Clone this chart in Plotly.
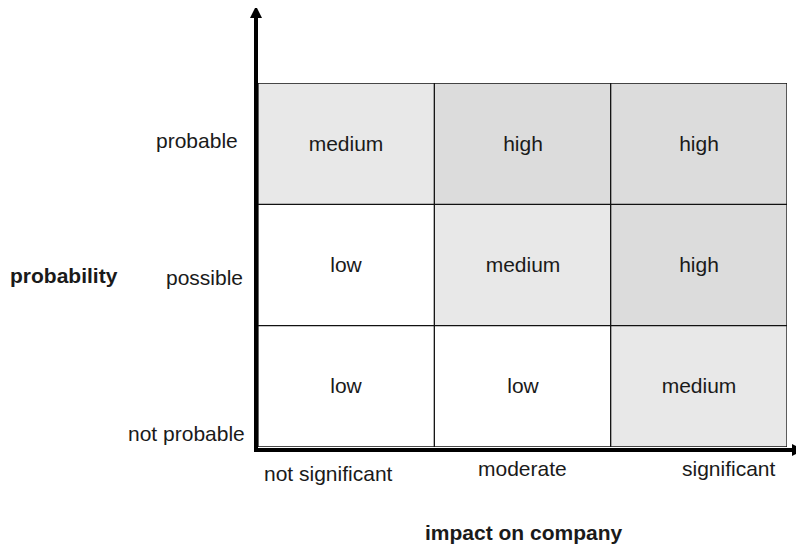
import plotly.graph_objects as go

# ---- data ----
impact_labels = ["not significant", "moderate", "significant"]
probability_labels = ["not probable", "possible", "probable"]
# risk level per row (bottom -> top), per column (left -> right)
risk_not_probable = ["low", "low", "medium"]
risk_possible = ["low", "medium", "high"]
risk_probable = ["medium", "high", "high"]
level_order = ["low", "medium", "high"]
x_title = "impact on company"
y_title = "probability"

# ---- styling ----
FONT = "Arial, Liberation Sans, sans-serif"
level_colors = ["#ffffff", "#e8e8e8", "#dcdcdc"]

rows = [risk_not_probable, risk_possible, risk_probable]
ncol = len(impact_labels)
nrow = len(probability_labels)
z = [[level_order.index(v) for v in r] for r in rows]

OFF = 8  # page body margin
W, H = 804 - OFF, 546 - OFF
# plot area in page pixels: x 258..787, y 83..447
L, T = 258 - OFF, 83 - OFF
R, B = 804 - 787, 546 - 447
pw, ph = W - L - R, H - T - B

fig = go.Figure()
fig.add_trace(go.Heatmap(
    x=[i + 0.5 for i in range(ncol)],
    y=[j + 0.5 for j in range(nrow)],
    z=z, text=rows, texttemplate="%{text}",
    textfont=dict(family=FONT, size=21, color="#1a1a1a"),
    colorscale=[[0, level_colors[0]], [0.5, level_colors[1]], [1, level_colors[2]]],
    zmin=0, zmax=2, showscale=False, hoverinfo="skip",
))

shapes = []
for i in range(ncol + 1):
    shapes.append(dict(type="line", xref="x", yref="y", x0=i, x1=i, y0=0, y1=nrow,
                       line=dict(color="#111", width=1.3)))
for j in range(nrow + 1):
    shapes.append(dict(type="line", xref="x", yref="y", x0=0, x1=ncol, y0=j, y1=j,
                       line=dict(color="#111", width=1.3)))

def px(xp):  # page pixel x -> paper
    return (xp - OFF - L) / pw

def py(yp):  # page pixel y -> paper
    return (H - B - (yp - OFF)) / ph

# y axis arrow
shapes.append(dict(type="line", xref="paper", yref="paper", x0=px(256), x1=px(256),
                   y0=py(452), y1=py(16), line=dict(color="black", width=4)))
shapes.append(dict(type="path", xref="paper", yref="paper",
                   path=f"M {px(250)} {py(18)} L {px(262)} {py(18)} L {px(256)} {py(6)} Z",
                   fillcolor="black", line=dict(color="black", width=0)))
# x axis arrow
shapes.append(dict(type="line", xref="paper", yref="paper", x0=px(254), x1=px(794),
                   y0=py(450), y1=py(450), line=dict(color="black", width=4)))
shapes.append(dict(type="path", xref="paper", yref="paper",
                   path=f"M {px(792)} {py(444)} L {px(792)} {py(456)} L {px(804)} {py(450)} Z",
                   fillcolor="black", line=dict(color="black", width=0)))

annotations = []
y_pos = [0.115, 1.40, 2.53]
for lab, yv, xs in zip(probability_labels, y_pos, [-11, -13, -18]):
    annotations.append(dict(text=lab, xref="paper", yref="y", x=0, y=yv, xshift=xs,
                            xanchor="right", yanchor="middle", showarrow=False,
                            font=dict(family=FONT, size=21, color="#1a1a1a")))
x_shifts = [-18, 0, 30]
y_shifts = [-26, -21, -21]
for i, lab in enumerate(impact_labels):
    annotations.append(dict(text=lab, xref="x", yref="paper", x=i + 0.5, y=0,
                            xshift=x_shifts[i], yshift=y_shifts[i],
                            xanchor="center", yanchor="middle", showarrow=False,
                            font=dict(family=FONT, size=21, color="#1a1a1a")))
annotations.append(dict(text=f"<b>{y_title}</b>", xref="paper", yref="paper",
                        x=px(64), y=py(275), xanchor="center", yanchor="middle",
                        showarrow=False, font=dict(family=FONT, size=21, color="#1a1a1a")))
annotations.append(dict(text=f"<b>{x_title}</b>", xref="paper", yref="paper",
                        x=px(524), y=py(532), xanchor="center", yanchor="middle",
                        showarrow=False, font=dict(family=FONT, size=21, color="#1a1a1a")))

fig.update_layout(
    width=W, height=H,
    margin=dict(l=L, r=R, t=T, b=B),
    paper_bgcolor="white", plot_bgcolor="white",
    xaxis=dict(range=[0, ncol], visible=False, fixedrange=True),
    yaxis=dict(range=[0, nrow], visible=False, fixedrange=True),
    shapes=shapes, annotations=annotations, showlegend=False,
)

fig.write_html("out.html")
